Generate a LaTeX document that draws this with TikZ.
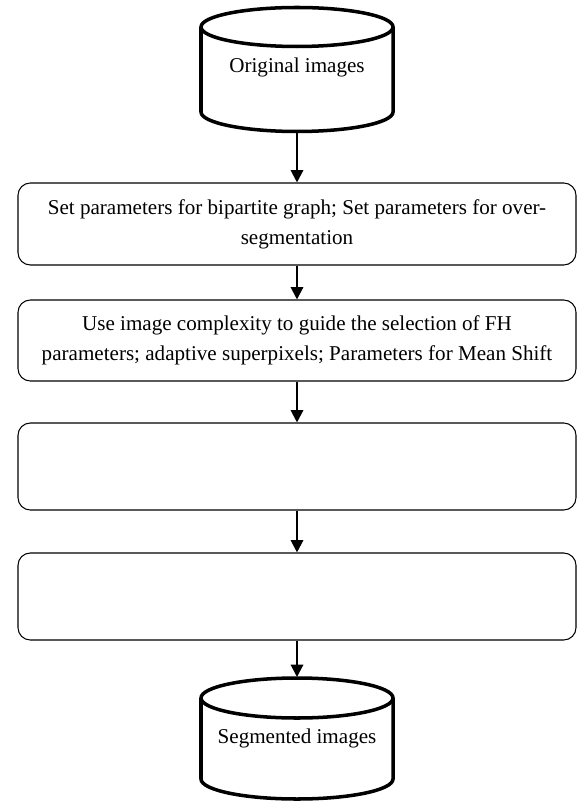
\documentclass[tikz,border=0pt]{standalone}
\usepackage{fontspec}
\setmainfont{Liberation Serif}
\usetikzlibrary{arrows.meta}

\begin{document}
\begin{tikzpicture}[x=0.02cm, y=-0.02cm,
    store/.style = {line width=2pt},
    label/.style = {inner sep=0pt, font=\fontsize{12}{14}\selectfont},
    stage/.style = {rectangle, rounded corners=7pt, draw, line width=0.6pt,
        minimum width=558*0.02cm, inner sep=0pt, align=center,
        font=\fontsize{12}{17}\selectfont},
    flow/.style = {-{Triangle[length=7pt,width=7pt]}, line width=1.2pt}]
    \useasboundingbox (0,0) rectangle (579,803);

    % input images
    \draw[store] (297,27) ellipse [x radius=96, y radius=19.5];
    \draw[store] (201,27) -- (201,112) arc[start angle=180, end angle=0, x radius=96, y radius=19.5] -- (393,27);
    \node[label] (orig) at (297,67) {Original images};
    \coordinate (orig-b) at (297,131.5);

    % output images
    \draw[store] (297,698) ellipse [x radius=96, y radius=20];
    \draw[store] (201,698) -- (201,779) arc[start angle=180, end angle=0, x radius=96, y radius=20] -- (393,698);
    \node[label] (seg) at (297,738) {Segmented images};
    \coordinate (seg-t) at (297,677);

    % processing steps
    \node[stage, minimum height=82*0.02cm] (params) at (297,224)
        {Set parameters for bipartite graph; Set parameters for over-\\segmentation};
    \node[stage, minimum height=81*0.02cm] (guide) at (297,340.5)
        {Use image complexity to guide the selection of FH\\parameters; adaptive superpixels; Parameters for Mean Shift};
    \node[stage, minimum height=87*0.02cm] (stepa) at (297,466.5) {};
    \node[stage, minimum height=87*0.02cm] (stepb) at (297,596.5) {};

    % connections
    \draw[flow] (orig-b) -- (params);
    \draw[flow] (params) -- (guide);
    \draw[flow] (guide) -- (stepa);
    \draw[flow] (stepa) -- (stepb);
    \draw[flow] (stepb) -- (seg-t);

\end{tikzpicture}
\end{document}
